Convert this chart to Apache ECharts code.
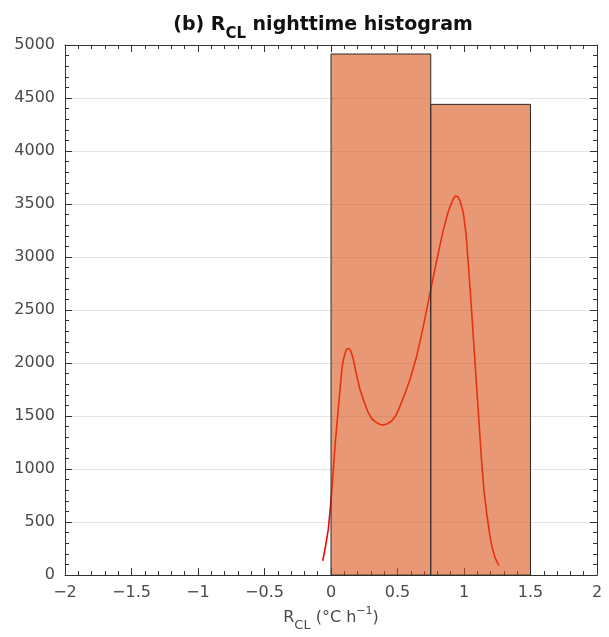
<!DOCTYPE html>
<html>
<head>
<meta charset="utf-8">
<script src="https://cdn.jsdelivr.net/npm/echarts@6/dist/echarts.min.js"></script>
<style>html,body{margin:0;padding:0;background:#fff;}#c{width:609px;height:637px;}</style>
</head>
<body>
<div id="c"></div>
<script>
// Histogram bins
var binEdges = [0, 0.75, 1.5];
var binCounts = [4915, 4440];
// Density curve (scaled)
var kdeX = [-0.062, -0.04, -0.02, 0.0, 0.015, 0.03, 0.05, 0.068, 0.08, 0.093, 0.11, 0.12, 0.13, 0.14, 0.15, 0.168, 0.19, 0.218, 0.25, 0.28, 0.31, 0.343, 0.37, 0.393, 0.42, 0.456, 0.49, 0.519, 0.556, 0.594, 0.644, 0.689, 0.75, 0.80, 0.845, 0.88, 0.90, 0.92, 0.935, 0.945, 0.955, 0.97, 0.985, 0.995, 1.015, 1.032, 1.058, 1.083, 1.108, 1.133, 1.15, 1.17, 1.19, 1.208, 1.235, 1.263];
var kdeY = [135, 280, 433, 700, 950, 1218, 1500, 1751, 1920, 2034, 2110, 2135, 2144, 2135, 2110, 2034, 1900, 1751, 1630, 1532, 1470, 1438, 1420, 1415, 1425, 1453, 1510, 1594, 1710, 1845, 2065, 2316, 2693, 3000, 3258, 3420, 3490, 3550, 3575, 3578, 3568, 3530, 3465, 3415, 3220, 2944, 2474, 2003, 1532, 1061, 800, 590, 410, 276, 160, 88];
// Axis ticks
var xMin = -2, xMax = 2, xStep = 0.5;
var yMin = 0, yMax = 5000, yStep = 500;

var barData = binCounts.map(function (c, i) { return [binEdges[i], binEdges[i + 1], c]; });
var lineData = kdeX.map(function (x, i) { return [x, kdeY[i]]; });

var axisCol = '#333';
var labelCol = '#4a4a4a';
var font = 'DejaVu Sans';

function fmt(v) { return String(v).replace('-', '\u2212'); }

function axisBase(pos, showLabel, split) {
  return {
    type: 'value', position: pos,
    axisLine: { show: true, onZero: false, lineStyle: { color: axisCol, width: 1 } },
    axisTick: { show: true, inside: true, length: 7, lineStyle: { color: axisCol } },
    minorTick: { show: true, splitNumber: 5, length: 4, lineStyle: { color: axisCol } },
    splitLine: { show: split, lineStyle: { color: '#e4e4e4', width: 1 } },
    axisLabel: { show: showLabel, color: labelCol, fontFamily: font, fontSize: 16, margin: 10, formatter: fmt }
  };
}

var xb = axisBase('bottom', true, false);
xb.min = xMin; xb.max = xMax; xb.interval = xStep;
xb.name = '{n|R}{s|CL}{n| (°C h}{p|\u22121}{n|)}';
xb.nameLocation = 'middle';
xb.nameGap = 30;
xb.nameTextStyle = {
  rich: {
    n: { fontFamily: font, fontSize: 16, color: labelCol, verticalAlign: 'bottom', lineHeight: 20 },
    s: { fontFamily: font, fontSize: 13, color: labelCol, verticalAlign: 'bottom', lineHeight: 20, padding: [0, 0, -6, 0] },
    p: { fontFamily: font, fontSize: 11, color: labelCol, verticalAlign: 'bottom', lineHeight: 20, padding: [0, 0, 9, 0] }
  }
};
var xt = axisBase('top', false, false);
xt.min = xMin; xt.max = xMax; xt.interval = xStep;
var yl = axisBase('left', true, true);
yl.min = yMin; yl.max = yMax; yl.interval = yStep;
var yr = axisBase('right', false, false);
yr.min = yMin; yr.max = yMax; yr.interval = yStep;

var chart = echarts.init(document.getElementById('c'), null, { renderer: 'canvas' });
chart.setOption({
  animation: false,
  backgroundColor: '#fff',
  title: {
    text: '{b|(b) R}{s|CL}{b| nighttime histogram}',
    left: 318, textAlign: 'center', top: 4,
    textStyle: {
      rich: {
        b: { fontFamily: font, fontWeight: 'bold', fontSize: 19, color: '#111', verticalAlign: 'bottom', lineHeight: 26 },
        s: { fontFamily: font, fontWeight: 'bold', fontSize: 15, color: '#111', verticalAlign: 'bottom', lineHeight: 26, padding: [0, 0, -7, 0] }
      }
    }
  },
  grid: { left: 65, right: 12, top: 45, bottom: 61, containLabel: false },
  xAxis: [xb, xt],
  yAxis: [yl, yr],
  series: [{
    type: 'line', xAxisIndex: 0, yAxisIndex: 0, z: 2,
    data: lineData, showSymbol: false, smooth: false,
    lineStyle: { color: '#ff0000', width: 1.6, join: 'round' }
  }, {
    type: 'custom', xAxisIndex: 0, yAxisIndex: 0, z: 3,
    data: barData,
    renderItem: function (params, api) {
      var p0 = api.coord([api.value(0), 0]);
      var p1 = api.coord([api.value(1), api.value(2)]);
      return {
        type: 'rect',
        shape: { x: p0[0], y: p1[1], width: p1[0] - p0[0], height: p0[1] - p1[1] },
        style: { fill: 'rgba(217,83,25,0.6)', stroke: '#2a2a2a', lineWidth: 1 }
      };
    }
  }]
});
</script>
</body>
</html>
